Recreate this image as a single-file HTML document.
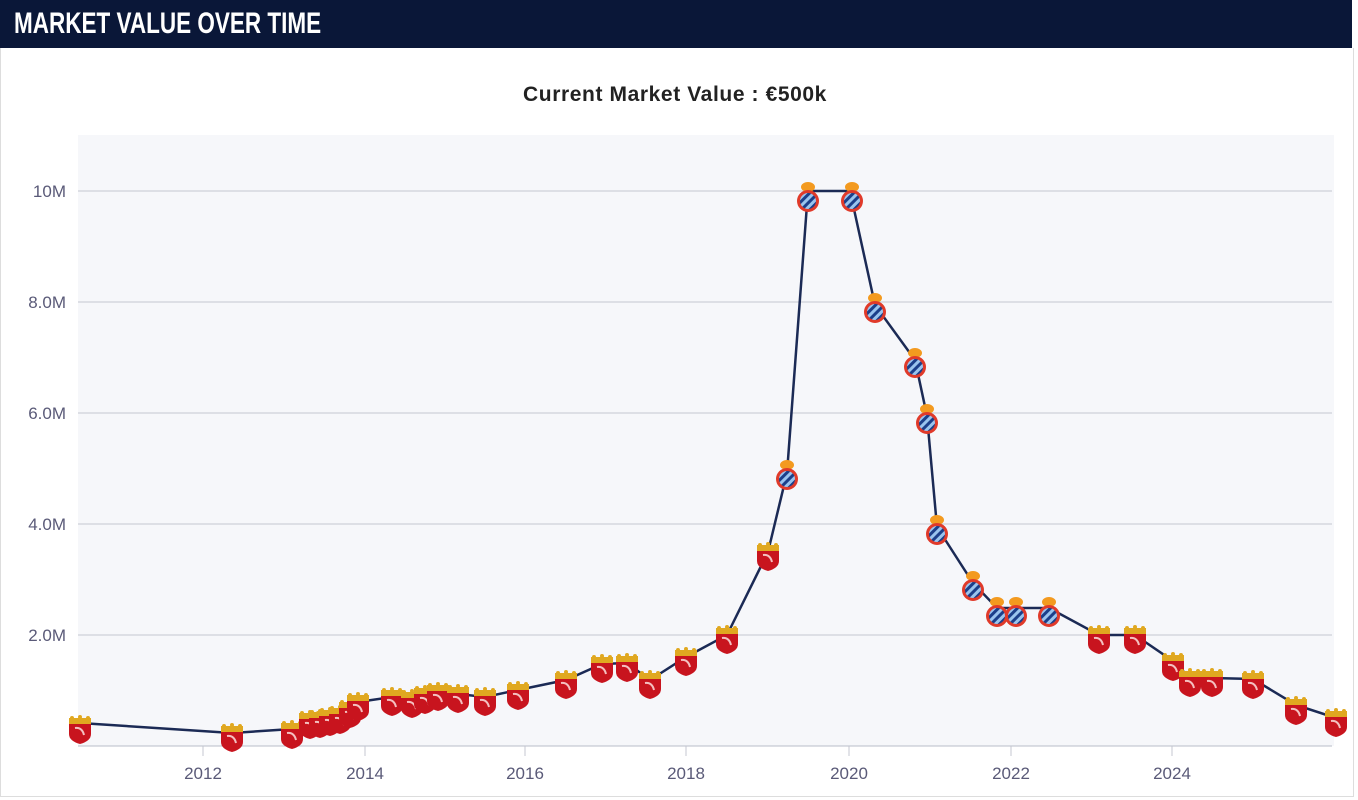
<!DOCTYPE html>
<html><head><meta charset="utf-8"><style>
body{margin:0;width:1358px;height:800px;background:#fff;overflow:hidden;font-family:"Liberation Sans",sans-serif}
.hd{position:absolute;left:0;top:0;width:1352px;height:48px;background:#0a1738}
.hd span{position:absolute;left:14px;top:7px;color:#fff;font-size:30px;font-weight:bold;transform:scaleX(0.75);transform-origin:left}
.frame{position:absolute;left:0;top:48px;width:1352px;height:748px;border:1px solid #ddd;border-top:none}
</style></head><body>
<div class="hd"><span>MARKET VALUE OVER TIME</span></div>
<div class="frame"></div>
<svg width="1358" height="800" style="position:absolute;left:0;top:0">
<defs>
<pattern id="st" width="6" height="6" patternUnits="userSpaceOnUse" patternTransform="rotate(45)"><rect width="6" height="6" fill="#9ac4ee"/><rect width="3" height="6" fill="#1c3f8a"/></pattern>
<g id="cr"><rect x="-11" y="-13" width="22" height="6" fill="#e0a820"/><circle cx="-8" cy="-13" r="2" fill="#e0a820"/><circle cx="0" cy="-14" r="2" fill="#e0a820"/><circle cx="8" cy="-13" r="2" fill="#e0a820"/><path d="M-11,-7 H11 V3 Q11,10 0,13 Q-11,10 -11,3 Z" fill="#c8141e"/><path d="M-5,-3 Q2,-4 4,4" stroke="#f4c0c0" stroke-width="2" fill="none"/></g>
<g id="bl"><ellipse cx="0" cy="-14" rx="7" ry="5" fill="#f39a1f"/><circle r="11" fill="#e03a2a"/><circle r="8" fill="url(#st)"/></g>
</defs>
<rect x="78" y="135" width="1256" height="611" fill="#f6f7fa"/>
<g stroke="#c4c7d0" stroke-width="1">
<line x1="78" x2="1332" y1="191" y2="191"/><line x1="78" x2="1332" y1="302" y2="302"/><line x1="78" x2="1332" y1="413" y2="413"/><line x1="78" x2="1332" y1="524" y2="524"/><line x1="78" x2="1332" y1="635" y2="635"/>
<line x1="78" x2="1332" y1="746" y2="746" stroke="#b8bcc8"/>
<line x1="203" x2="203" y1="746" y2="756"/><line x1="365" x2="365" y1="746" y2="756"/><line x1="525" x2="525" y1="746" y2="756"/><line x1="686" x2="686" y1="746" y2="756"/><line x1="849" x2="849" y1="746" y2="756"/><line x1="1011" x2="1011" y1="746" y2="756"/><line x1="1172" x2="1172" y1="746" y2="756"/>
</g>
<g fill="#5a5a78" font-size="17" text-anchor="end">
<text x="66" y="197">10M</text><text x="66" y="308">8.0M</text><text x="66" y="419">6.0M</text><text x="66" y="530">4.0M</text><text x="66" y="641">2.0M</text>
</g>
<g fill="#5a5a78" font-size="17" text-anchor="middle">
<text x="203" y="779">2012</text><text x="365" y="779">2014</text><text x="525" y="779">2016</text><text x="686" y="779">2018</text><text x="849" y="779">2020</text><text x="1011" y="779">2022</text><text x="1172" y="779">2024</text>
</g>
<text x="675" y="101" text-anchor="middle" font-size="21" font-weight="bold" fill="#222" letter-spacing="0.6">Current Market Value : €500k</text>
<polyline fill="none" stroke="#1b2a55" stroke-width="2.5" points="80,723 232,733 292,729 310,720 320,718 330,716 340,714 350,708 358,702 392,697 412,698 425,695 438,692 458,694 485,697 518,690 566,680 602,664 627,663 650,680 686,657 727,635 768,552 787,473 808,191 850,191 875,305 915,360 927,416 937,527 973,583 997,608 1016,608 1049,608 1099,635 1135,635 1173,661 1190,678 1212,678 1253,679 1296,705 1336,718"/>
<g>
<use href="#cr" x="80" y="731"/><use href="#cr" x="232" y="739"/><use href="#cr" x="292" y="736"/><use href="#cr" x="310" y="726"/><use href="#cr" x="320" y="725"/><use href="#cr" x="330" y="723"/><use href="#cr" x="340" y="721"/><use href="#cr" x="350" y="715"/><use href="#cr" x="358" y="708"/><use href="#cr" x="392" y="703"/><use href="#cr" x="412" y="705"/><use href="#cr" x="425" y="701"/><use href="#cr" x="438" y="698"/><use href="#cr" x="458" y="700"/><use href="#cr" x="485" y="703"/><use href="#cr" x="518" y="697"/><use href="#cr" x="566" y="686"/><use href="#cr" x="602" y="670"/><use href="#cr" x="627" y="669"/><use href="#cr" x="650" y="686"/><use href="#cr" x="686" y="663"/><use href="#cr" x="727" y="641"/><use href="#cr" x="768" y="558"/>
<use href="#bl" x="787" y="479"/><use href="#bl" x="808" y="201"/><use href="#bl" x="852" y="201"/><use href="#bl" x="875" y="312"/><use href="#bl" x="915" y="367"/><use href="#bl" x="927" y="423"/><use href="#bl" x="937" y="534"/><use href="#bl" x="973" y="590"/><use href="#bl" x="997" y="616"/><use href="#bl" x="1016" y="616"/><use href="#bl" x="1049" y="616"/>
<use href="#cr" x="1099" y="641"/><use href="#cr" x="1135" y="641"/><use href="#cr" x="1173" y="668"/><use href="#cr" x="1190" y="684"/><use href="#cr" x="1212" y="684"/><use href="#cr" x="1253" y="686"/><use href="#cr" x="1296" y="712"/><use href="#cr" x="1336" y="724"/>
</g>
</svg>
</body></html>
